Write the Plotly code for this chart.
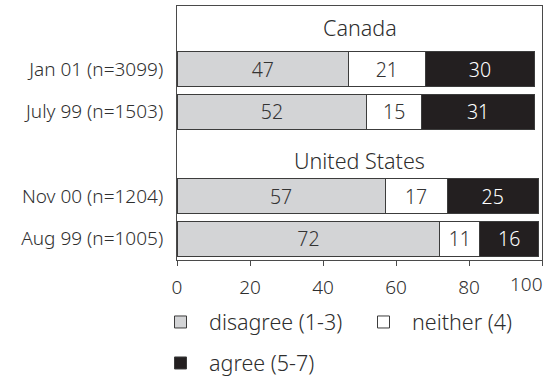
import plotly.graph_objects as go

# Row order top to bottom: a heading row for each country, then its survey waves
rows = ["Canada", "Jan 01 (n=3099)", "July 99 (n=1503)",
        "United States", "Nov 00 (n=1204)", "Aug 99 (n=1005)"]
surveys = ["Jan 01 (n=3099)", "July 99 (n=1503)", "Nov 00 (n=1204)", "Aug 99 (n=1005)"]
headings = ["Canada", "United States"]

disagree = [47, 52, 57, 72]
neither = [21, 15, 17, 11]
agree = [30, 31, 25, 16]

x_ticks = [0, 20, 40, 60, 80, 100]

# name, values, fill, label colour, label weight, legend id
series = [
    ("disagree (1-3)", disagree, "#d3d4d6", "#333333", 300, "legend"),
    ("neither (4)", neither, "#ffffff", "#333333", 300, "legend2"),
    ("agree (5-7)", agree, "#231f20", "#ffffff", 350, "legend3"),
]

FONT = "Noto Sans"
INK = "#2e2e2e"
W, H = 545, 378

fig = go.Figure()
for name, vals, fill, txt, wt, leg in series:
    fig.add_trace(go.Bar(
        y=surveys, x=vals, name=name, orientation="h", legend=leg,
        marker=dict(color=fill, line=dict(color="#3c3c3c", width=1)),
        text=[str(v) for v in vals], textposition="inside",
        insidetextanchor="middle",
        textfont=dict(family=FONT, size=19.5, color=txt, weight=wt),
        width=0.83,
    ))

for h, shift in zip(headings, [0, -7]):
    fig.add_annotation(x=50, y=h, xref="x", yref="y", text=h, showarrow=False,
                       yshift=shift,
                       font=dict(family=FONT, size=21.5, color=INK, weight=300))

# the last tick label sits flush with the right edge of the frame
fig.add_annotation(x=x_ticks[-1], y=0, xref="x", yref="paper", text=str(x_ticks[-1]),
                   showarrow=False, xanchor="right", yanchor="top", yshift=-9, xshift=3,
                   font=dict(family=FONT, size=19, color=INK, weight=300))

legend_common = dict(orientation="h", xref="container", yref="container",
                     xanchor="left", yanchor="middle", traceorder="normal",
                     itemwidth=47,
                     font=dict(family=FONT, size=21.5, color=INK, weight=300),
                     bgcolor="rgba(0,0,0,0)", borderwidth=0)

fig.update_layout(
    width=W, height=H,
    margin=dict(l=177, r=2, t=6, b=113),
    barmode="stack",
    plot_bgcolor="white", paper_bgcolor="white",
    font=dict(family=FONT, size=18, color=INK, weight=300),
    uniformtext=dict(mode="show", minsize=10),
    xaxis=dict(range=[0, 100], tickvals=x_ticks,
               ticktext=[str(t) for t in x_ticks[:-1]] + [""],
               showgrid=False, zeroline=False, showline=True, mirror=True,
               linecolor="#4a4a4a", linewidth=1, ticks="outside", ticklen=5,
               tickcolor="#4a4a4a", ticklabelstandoff=5,
               tickfont=dict(family=FONT, size=19, weight=300)),
    yaxis=dict(categoryorder="array", categoryarray=rows, range=[5.5, -0.5],
               tickvals=surveys, ticktext=surveys,
               showgrid=False, zeroline=False, showline=True, mirror=True,
               linecolor="#4a4a4a", linewidth=1, ticks="", ticklabelstandoff=9,
               tickfont=dict(family=FONT, size=19, weight=300)),
    legend=dict(x=152 / W, y=1 - 322 / H, **legend_common),
    legend2=dict(x=355 / W, y=1 - 322 / H, **legend_common),
    legend3=dict(x=152 / W, y=1 - 363 / H, **legend_common),
    showlegend=True,
)

fig.write_html("out.html")
